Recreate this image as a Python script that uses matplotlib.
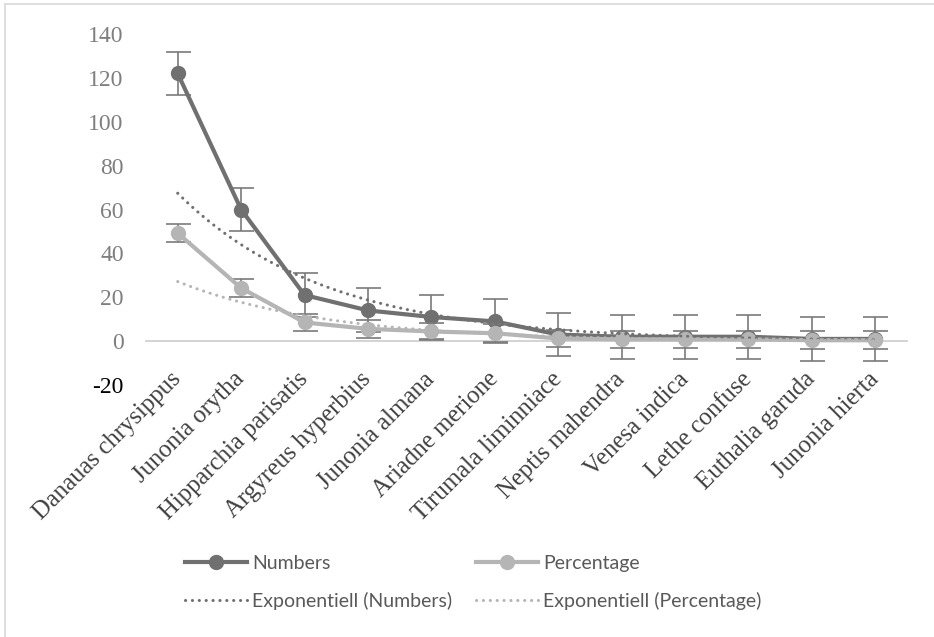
import numpy as np
import matplotlib
matplotlib.use("Agg")
import matplotlib.pyplot as plt
from matplotlib.lines import Line2D

categories = ["Danauas chrysippus", "Junonia orytha", "Hipparchia parisatis",
              "Argyreus hyperbius", "Junonia almana", "Ariadne merione",
              "Tirumala liminniace", "Neptis mahendra", "Venesa indica",
              "Lethe confuse", "Euthalia garuda", "Junonia hierta"]
numbers = [122, 60, 21, 14, 11, 9, 3, 2, 2, 2, 1, 1]
percentage = [49.2, 24.2, 8.5, 5.6, 4.4, 3.6, 1.2, 0.8, 0.8, 0.8, 0.4, 0.4]
numbers_err = [10] * 12
percentage_err = [4] * 12
yticks = [-20, 0, 20, 40, 60, 80, 100, 120, 140]

DARK = "#707070"
LIGHT = "#b5b5b5"
ERR = "#7a7a7a"

fig = plt.figure(figsize=(9.34, 6.37), dpi=100)
ax = fig.add_axes([146/934, 1-385/637, (907-146)/934, (385-34)/637])

x = np.arange(len(categories))

ax.errorbar(x, numbers, yerr=numbers_err, fmt='none', ecolor=ERR, elinewidth=1.2,
            capsize=9, capthick=1.2, zorder=2)
ln1, = ax.plot(x, numbers, color=DARK, lw=3, marker='o', ms=10, zorder=3,
               label="Numbers")
ax.errorbar(x, percentage, yerr=percentage_err, fmt='none', ecolor=ERR, elinewidth=1.2,
            capsize=9, capthick=1.2, zorder=4)
ln2, = ax.plot(x, percentage, color=LIGHT, lw=3, marker='o', ms=10, zorder=5,
               label="Percentage")

# exponential trendlines (Excel-style log-linear fit on x = 1..n)
xs = x + 1
xx = np.linspace(xs[0], xs[-1], 300)
b1, a1 = np.polyfit(xs, np.log(numbers), 1)
b2, a2 = np.polyfit(xs, np.log(percentage), 1)
dots = (0, (0.05, 2.2))
tr1, = ax.plot(xx - 1, np.exp(a1 + b1 * xx), color=DARK, lw=2.2,
               linestyle=dots, dash_capstyle='round', zorder=6,
               label="Exponentiell (Numbers)")
tr2, = ax.plot(xx - 1, np.exp(a2 + b2 * xx), color=LIGHT, lw=2.2,
               linestyle=dots, dash_capstyle='round', zorder=6,
               label="Exponentiell (Percentage)")

ax.set_xlim(-0.5, len(categories) - 0.5)
ax.set_ylim(-20, 140)
ax.set_yticks(yticks)
ax.set_xticks(x)

for s in ["top", "right", "left"]:
    ax.spines[s].set_visible(False)
ax.spines["bottom"].set_position(("data", 0))
ax.spines["bottom"].set_color("#d0d0d0")
ax.spines["bottom"].set_linewidth(1.3)
ax.spines["bottom"].set_zorder(1)

ax.tick_params(axis='y', length=0, pad=16)
ax.tick_params(axis='x', length=0, pad=25)
ax.set_yticklabels([str(v) for v in yticks], fontfamily="Liberation Serif",
                   fontsize=17, color="#7f7f7f")
ax.get_yticklabels()[0].set_color("black")
ax.set_xticklabels(categories, fontfamily="Liberation Serif", fontsize=17.8,
                   color="#404040", rotation=45, ha='right', va='center',
                   rotation_mode='anchor')

handles = [ln1, tr1, ln2, tr2]
fig.legend(handles=handles, labels=[h.get_label() for h in handles],
           loc='upper left', bbox_to_anchor=(185/934, 1-555/637), ncol=2,
           frameon=False, prop={'family': 'Lato', 'size': 14},
           labelcolor="#595959", handlelength=3.2, handletextpad=0.26,
           columnspacing=1.2, labelspacing=1.0, borderpad=0, borderaxespad=0,
           numpoints=1)

fig.add_artist(Line2D([5/934, 5/934], [0, 1-4/637], transform=fig.transFigure,
                      color="#d9d9d9", lw=1.2))
fig.add_artist(Line2D([5/934, 1], [1-4/637, 1-4/637], transform=fig.transFigure,
                      color="#d9d9d9", lw=1.2))

fig.savefig("out.png", dpi=100)
